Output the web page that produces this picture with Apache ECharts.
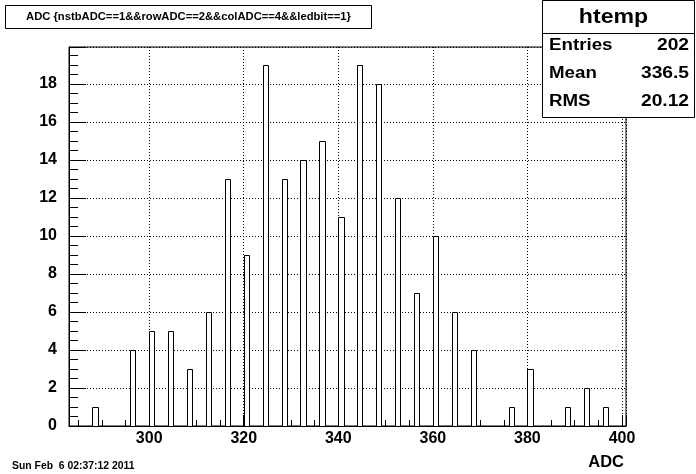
<!DOCTYPE html>
<html><head><meta charset="utf-8">
<script src="https://cdn.jsdelivr.net/npm/echarts@6/dist/echarts.min.js"></script>
<style>html,body{margin:0;padding:0;background:#fff}#c{width:696px;height:474px}</style>
</head><body><div id="c"></div>
<script>
// ADC bin lower edges (values with entries) and bin contents
var adcValues = [288, 296, 300, 304, 308, 312, 316, 320, 324, 328, 332, 336, 340, 344, 348, 352, 356, 360, 364, 368, 376, 380, 388, 392, 396];
var counts    = [1, 4, 5, 5, 3, 6, 13, 9, 19, 13, 14, 15, 11, 19, 18, 12, 7, 10, 6, 4, 1, 3, 1, 2, 1];
var binWidth = 1.1;
var xRange = [283.04, 400.85];
var yRange = [0, 19.95];
var titleText = 'ADC {nstbADC==1&&rowADC==2&&colADC==4&&ledbit==1}';
var statsName = 'htemp';
var statsLabels = ['Entries', 'Mean', 'RMS'];
var statsValues = ['202', '336.5', '20.12'];
var dateText = 'Sun Feb  6 02:37:12 2011';
var xTitle = 'ADC';

var FONT = '"Liberation Sans", Arial, sans-serif';
var data = adcValues.map(function (v, i) { return [v, counts[i]]; });

var chart = echarts.init(document.getElementById('c'), null, {renderer: 'canvas'});
var graphics = [
  {type: 'rect', shape: {x: 5.5, y: 5.5, width: 366, height: 23}, style: {fill: '#fff', stroke: '#000', lineWidth: 1}, z: 100},
  {type: 'text', x: 188.5, y: 17, style: {text: titleText, font: 'bold 11px ' + FONT, fill: '#000', textAlign: 'center', textVerticalAlign: 'middle'}, scaleX: 1.02, z: 101},
  {type: 'rect', shape: {x: 542.5, y: 0.5, width: 152, height: 117}, style: {fill: '#fff', stroke: '#000', lineWidth: 1}, z: 100},
  {type: 'line', shape: {x1: 542, y1: 33.5, x2: 695, y2: 33.5}, style: {stroke: '#000', lineWidth: 1}, z: 101},
  {type: 'text', x: 613.5, y: 17, style: {text: statsName, font: 'bold 21px ' + FONT, fill: '#000', textAlign: 'center', textVerticalAlign: 'middle'}, scaleX: 1.1, z: 101},
  {type: 'text', x: 12, y: 466, style: {text: dateText, font: 'bold 10px ' + FONT, fill: '#000', textAlign: 'left', textVerticalAlign: 'middle'}, scaleX: 1.04, z: 101},
  {type: 'text', x: 624, y: 463, style: {text: xTitle, font: 'bold 16px ' + FONT, fill: '#000', textAlign: 'right', textVerticalAlign: 'middle'}, scaleX: 1.03, z: 101}
];
for (var i = 0; i < statsLabels.length; i++) {
  graphics.push({type: 'text', x: 549, y: 46 + i * 28, style: {text: statsLabels[i], font: 'bold 16px ' + FONT, fill: '#000', textAlign: 'left', textVerticalAlign: 'middle'}, scaleX: 1.17, z: 101});
  graphics.push({type: 'text', x: 689, y: 46 + i * 28, style: {text: statsValues[i], font: 'bold 16px ' + FONT, fill: '#000', textAlign: 'right', textVerticalAlign: 'middle'}, scaleX: 1.2, z: 101});
}

chart.setOption({
  animation: false,
  backgroundColor: '#fff',
  grid: {left: 69, right: 70, top: 47, bottom: 48, show: true, borderColor: '#000', borderWidth: 1, backgroundColor: 'transparent'},
  xAxis: {
    type: 'value', min: xRange[0], max: xRange[1], splitNumber: 5,
    axisLine: {show: true, lineStyle: {color: '#000', width: 1}},
    axisTick: {show: true, inside: true, length: 11, lineStyle: {color: '#000'}},
    minorTick: {show: true, splitNumber: 4, length: 6, lineStyle: {color: '#000'}},
    splitLine: {show: true, lineStyle: {color: '#000', type: [1, 2], width: 1}},
    axisLabel: {show: true, color: '#000', fontFamily: FONT, fontWeight: 'bold', fontSize: 16, margin: 5, showMinLabel: false, showMaxLabel: false,
      formatter: function (v) { return (Math.abs(v - Math.round(v)) < 1e-6) ? String(Math.round(v)) : ''; }}
  },
  yAxis: {
    type: 'value', min: yRange[0], max: yRange[1], interval: 2,
    axisLine: {show: true, lineStyle: {color: '#000', width: 1}},
    axisTick: {show: true, inside: true, length: 17, lineStyle: {color: '#000'}},
    minorTick: {show: true, splitNumber: 4, length: 9, lineStyle: {color: '#000'}},
    splitLine: {show: true, lineStyle: {color: '#000', type: [1, 2], width: 1}},
    axisLabel: {show: true, color: '#000', fontFamily: FONT, fontWeight: 'bold', fontSize: 16, margin: 12, showMaxLabel: false,
      formatter: function (v) { return (Math.abs(v - Math.round(v)) < 1e-6) ? String(Math.round(v)) : ''; }}
  },
  series: [{
    type: 'custom',
    data: data,
    clip: true,
    renderItem: function (params, api) {
      var x0 = api.value(0), c = api.value(1);
      var p0 = api.coord([x0, c]);
      var p1 = api.coord([x0 + binWidth, 0]);
      var l = Math.round(p0[0]) + 0.5, r = Math.round(p1[0]) + 0.5;
      var t = Math.round(p0[1]) + 0.5, b = Math.round(p1[1]) + 0.5;
      return {type: 'polyline', shape: {points: [[l, b], [l, t], [r, t], [r, b]]},
        style: {fill: '#fff', stroke: '#000', lineWidth: 1}};
    },
    z: 3
  }],
  graphic: graphics
});
</script></body></html>
